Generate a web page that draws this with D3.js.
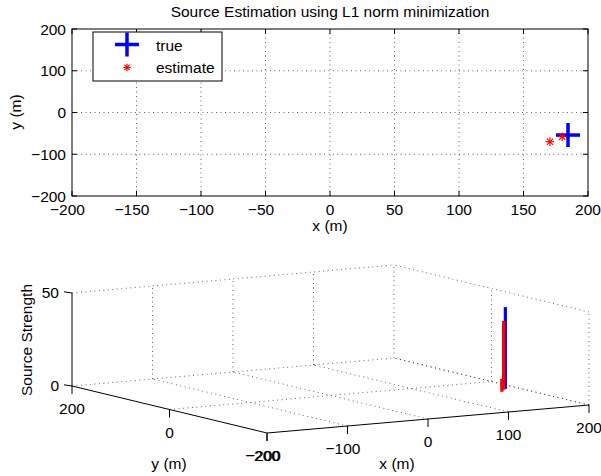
<!DOCTYPE html>
<html>
<head>
<meta charset="utf-8">
<script src="https://cdn.jsdelivr.net/npm/d3@7"></script>
<style>
  body { margin: 0; background: #fff; }
  svg text { font-family: "Liberation Sans", Arial, Helvetica, sans-serif; font-size: 15.5px; fill: #000; }
</style>
</head>
<body>
<svg id="chart" width="601" height="476"></svg>
<script>
// data
const trueX = [184.5];
const trueY = [-54];
const trueStrength = [44];
const estX = [170.5, 180];
const estY = [-70, -58];
const estStrength = [7, 37];

const xTicks2d = [-200, -150, -100, -50, 0, 50, 100, 150, 200];
const yTicks2d = [-200, -100, 0, 100, 200];
const xTicks3d = [-200, -100, 0, 100, 200];
const yTicks3d = [-200, 0, 200];
const zTicks3d = [0, 50];

const svg = d3.select('#chart');
const fmt = d => (d < 0 ? '\u2212' + Math.abs(d) : String(d));
const negShift = d => (d < 0 ? -4.5 : 0);
const dotted = '1 3.5';

// ---------- top panel ----------
const x = d3.scaleLinear().domain([-200, 200]).range([72, 588]);
const y = d3.scaleLinear().domain([-200, 200]).range([196, 29]);

const topG = svg.append('g');

// grid
topG.selectAll('.vgrid')
    .data(xTicks2d.slice(1, -1))
    .enter().append('line')
    .attr('x1', d => x(d)).attr('x2', d => x(d))
    .attr('y1', y(-200)).attr('y2', y(200))
    .attr('stroke', '#222').attr('stroke-width', 0.7).attr('stroke-dasharray', dotted);
topG.selectAll('.hgrid')
    .data(yTicks2d.slice(1, -1))
    .enter().append('line')
    .attr('x1', x(-200)).attr('x2', x(200))
    .attr('y1', d => y(d)).attr('y2', d => y(d))
    .attr('stroke', '#222').attr('stroke-width', 0.7).attr('stroke-dasharray', dotted);

// axes box with inward ticks
topG.append('rect')
    .attr('x', x(-200)).attr('y', y(200))
    .attr('width', x(200) - x(-200)).attr('height', y(-200) - y(200))
    .attr('fill', 'none').attr('stroke', '#000').attr('stroke-width', 1);

const tl = 5;
xTicks2d.forEach(d => {
    topG.append('line').attr('x1', x(d)).attr('x2', x(d)).attr('y1', y(-200)).attr('y2', y(-200) - tl).attr('stroke', '#000');
    topG.append('line').attr('x1', x(d)).attr('x2', x(d)).attr('y1', y(200)).attr('y2', y(200) + tl).attr('stroke', '#000');
});
yTicks2d.forEach(d => {
    topG.append('line').attr('x1', x(-200)).attr('x2', x(-200) + tl).attr('y1', y(d)).attr('y2', y(d)).attr('stroke', '#000');
    topG.append('line').attr('x1', x(200)).attr('x2', x(200) - tl).attr('y1', y(d)).attr('y2', y(d)).attr('stroke', '#000');
});

topG.selectAll('.xlab')
    .data(xTicks2d)
    .enter().append('text')
    .attr('x', d => x(d) + negShift(d)).attr('y', 215)
    .attr('text-anchor', 'middle')
    .text(fmt);
topG.selectAll('.ylab')
    .data(yTicks2d)
    .enter().append('text')
    .attr('x', 66).attr('y', d => y(d) + 5.5)
    .attr('text-anchor', 'end')
    .text(fmt);

topG.append('text').attr('x', 330).attr('y', 17).attr('text-anchor', 'middle')
    .text('Source Estimation using L1 norm minimization');
topG.append('text').attr('x', 330).attr('y', 231).attr('text-anchor', 'middle').text('x (m)');
topG.append('text').attr('transform', 'translate(21,112) rotate(-90)').attr('text-anchor', 'middle').text('y (m)');

function plus(g, cx, cy, r, color, w) {
    g.append('line').attr('x1', cx - r).attr('x2', cx + r).attr('y1', cy).attr('y2', cy)
        .attr('stroke', color).attr('stroke-width', w);
    g.append('line').attr('x1', cx).attr('x2', cx).attr('y1', cy - r).attr('y2', cy + r)
        .attr('stroke', color).attr('stroke-width', w);
}
function asterisk(g, cx, cy, r, color) {
    plus(g, cx, cy, r, color, 1.2);
    const k = r * 0.72;
    g.append('line').attr('x1', cx - k).attr('x2', cx + k).attr('y1', cy - k).attr('y2', cy + k)
        .attr('stroke', color).attr('stroke-width', 1.2);
    g.append('line').attr('x1', cx - k).attr('x2', cx + k).attr('y1', cy + k).attr('y2', cy - k)
        .attr('stroke', color).attr('stroke-width', 1.2);
}

trueX.forEach((d, i) => plus(topG, x(d), y(trueY[i]), 12, '#0000ff', 3.5));
estX.forEach((d, i) => asterisk(topG, x(d), y(estY[i]), 4.3, '#ff0000'));

// legend
const leg = topG.append('g');
leg.append('rect').attr('x', 93).attr('y', 32).attr('width', 129).attr('height', 49)
    .attr('fill', '#fff').attr('stroke', '#000').attr('stroke-width', 1);
plus(leg, 127, 44.5, 12, '#0000ff', 3.5);
asterisk(leg, 127, 67.5, 3.7, '#ff0000');
leg.append('text').attr('x', 156).attr('y', 51).text('true');
leg.append('text').attr('x', 156).attr('y', 73).text('estimate');

// ---------- bottom panel (3-D view) ----------
const u = d3.scaleLinear().domain([-200, 200]).range([0, 1]);
const v = d3.scaleLinear().domain([200, -200]).range([0, 1]);
const w = d3.scaleLinear().domain([0, 50]).range([0, 1]);
const origin = [72, 386], ex = [322, -28], ey = [195, 47], ez = [0, -93];
function proj(px, py, pz) {
    const a = u(px), b = v(py), c = w(pz);
    return [origin[0] + a * ex[0] + b * ey[0] + c * ez[0],
            origin[1] + a * ex[1] + b * ey[1] + c * ez[1]];
}

const bot = svg.append('g');
function seg(p, q, solid, width) {
    const a = proj(...p), b = proj(...q);
    const l = bot.append('line')
        .attr('x1', a[0]).attr('y1', a[1]).attr('x2', b[0]).attr('y2', b[1])
        .attr('stroke', solid ? '#000' : '#222')
        .attr('stroke-width', width || (solid ? 1 : 0.7));
    if (!solid) l.attr('stroke-dasharray', dotted);
    return l;
}

// back wall y = 200
xTicks3d.slice(1).forEach(d => seg([d, 200, 0], [d, 200, 50], false));
zTicks3d.forEach(d => seg([-200, 200, d], [200, 200, d], false));
// back wall x = 200
yTicks3d.slice(0, -1).forEach(d => seg([200, d, 0], [200, d, 50], false));
zTicks3d.forEach(d => seg([200, -200, d], [200, 200, d], false));
// floor
xTicks3d.slice(1).forEach(d => seg([d, -200, 0], [d, 200, 0], false));
yTicks3d.slice(1, -1).forEach(d => seg([-200, d, 0], [200, d, 0], false));

// axes
seg([-200, 200, 0], [-200, 200, 50], true);
seg([-200, 200, 0], [-200, -200, 0], true);
seg([-200, -200, 0], [200, -200, 0], true);

// ticks and labels
zTicks3d.forEach(d => {
    const p = proj(-200, 200, d);
    bot.append('line').attr('x1', p[0]).attr('y1', p[1]).attr('x2', p[0] - 8).attr('y2', p[1] - 1.2).attr('stroke', '#000');
    bot.append('text').attr('x', 59).attr('y', p[1] + 4.5).attr('text-anchor', 'end').text(fmt(d));
});
yTicks3d.forEach(d => {
    const p = proj(-200, d, 0);
    bot.append('line').attr('x1', p[0]).attr('y1', p[1]).attr('x2', p[0]).attr('y2', p[1] + 8).attr('stroke', '#000');
    bot.append('text').attr('x', p[0] + negShift(d) + (d < 0 ? 1 : 0)).attr('y', p[1] + 28)
        .attr('text-anchor', 'middle').text(fmt(d));
});
xTicks3d.forEach(d => {
    const p = proj(d, -200, 0);
    bot.append('line').attr('x1', p[0]).attr('y1', p[1]).attr('x2', p[0]).attr('y2', p[1] + 8).attr('stroke', '#000');
    bot.append('text').attr('x', p[0] + negShift(d)).attr('y', p[1] + 27.5)
        .attr('text-anchor', 'middle').text(fmt(d));
});

bot.append('text').attr('x', 397).attr('y', 469).attr('text-anchor', 'middle').text('x (m)');
bot.append('text').attr('x', 169).attr('y', 469).attr('text-anchor', 'middle').text('y (m)');
bot.append('text').attr('transform', 'translate(32,340) rotate(-90)').attr('text-anchor', 'middle').text('Source Strength');

// source strength bars: true (blue) then estimates (red)
trueX.forEach((d, i) => seg([d, trueY[i], 0], [d, trueY[i], trueStrength[i]], true, 3.2).attr('stroke', '#0000ff'));
estX.forEach((d, i) => seg([d, estY[i], 0], [d, estY[i], estStrength[i]], true, 3.4).attr('stroke', '#ff0000'));
</script>
</body>
</html>
